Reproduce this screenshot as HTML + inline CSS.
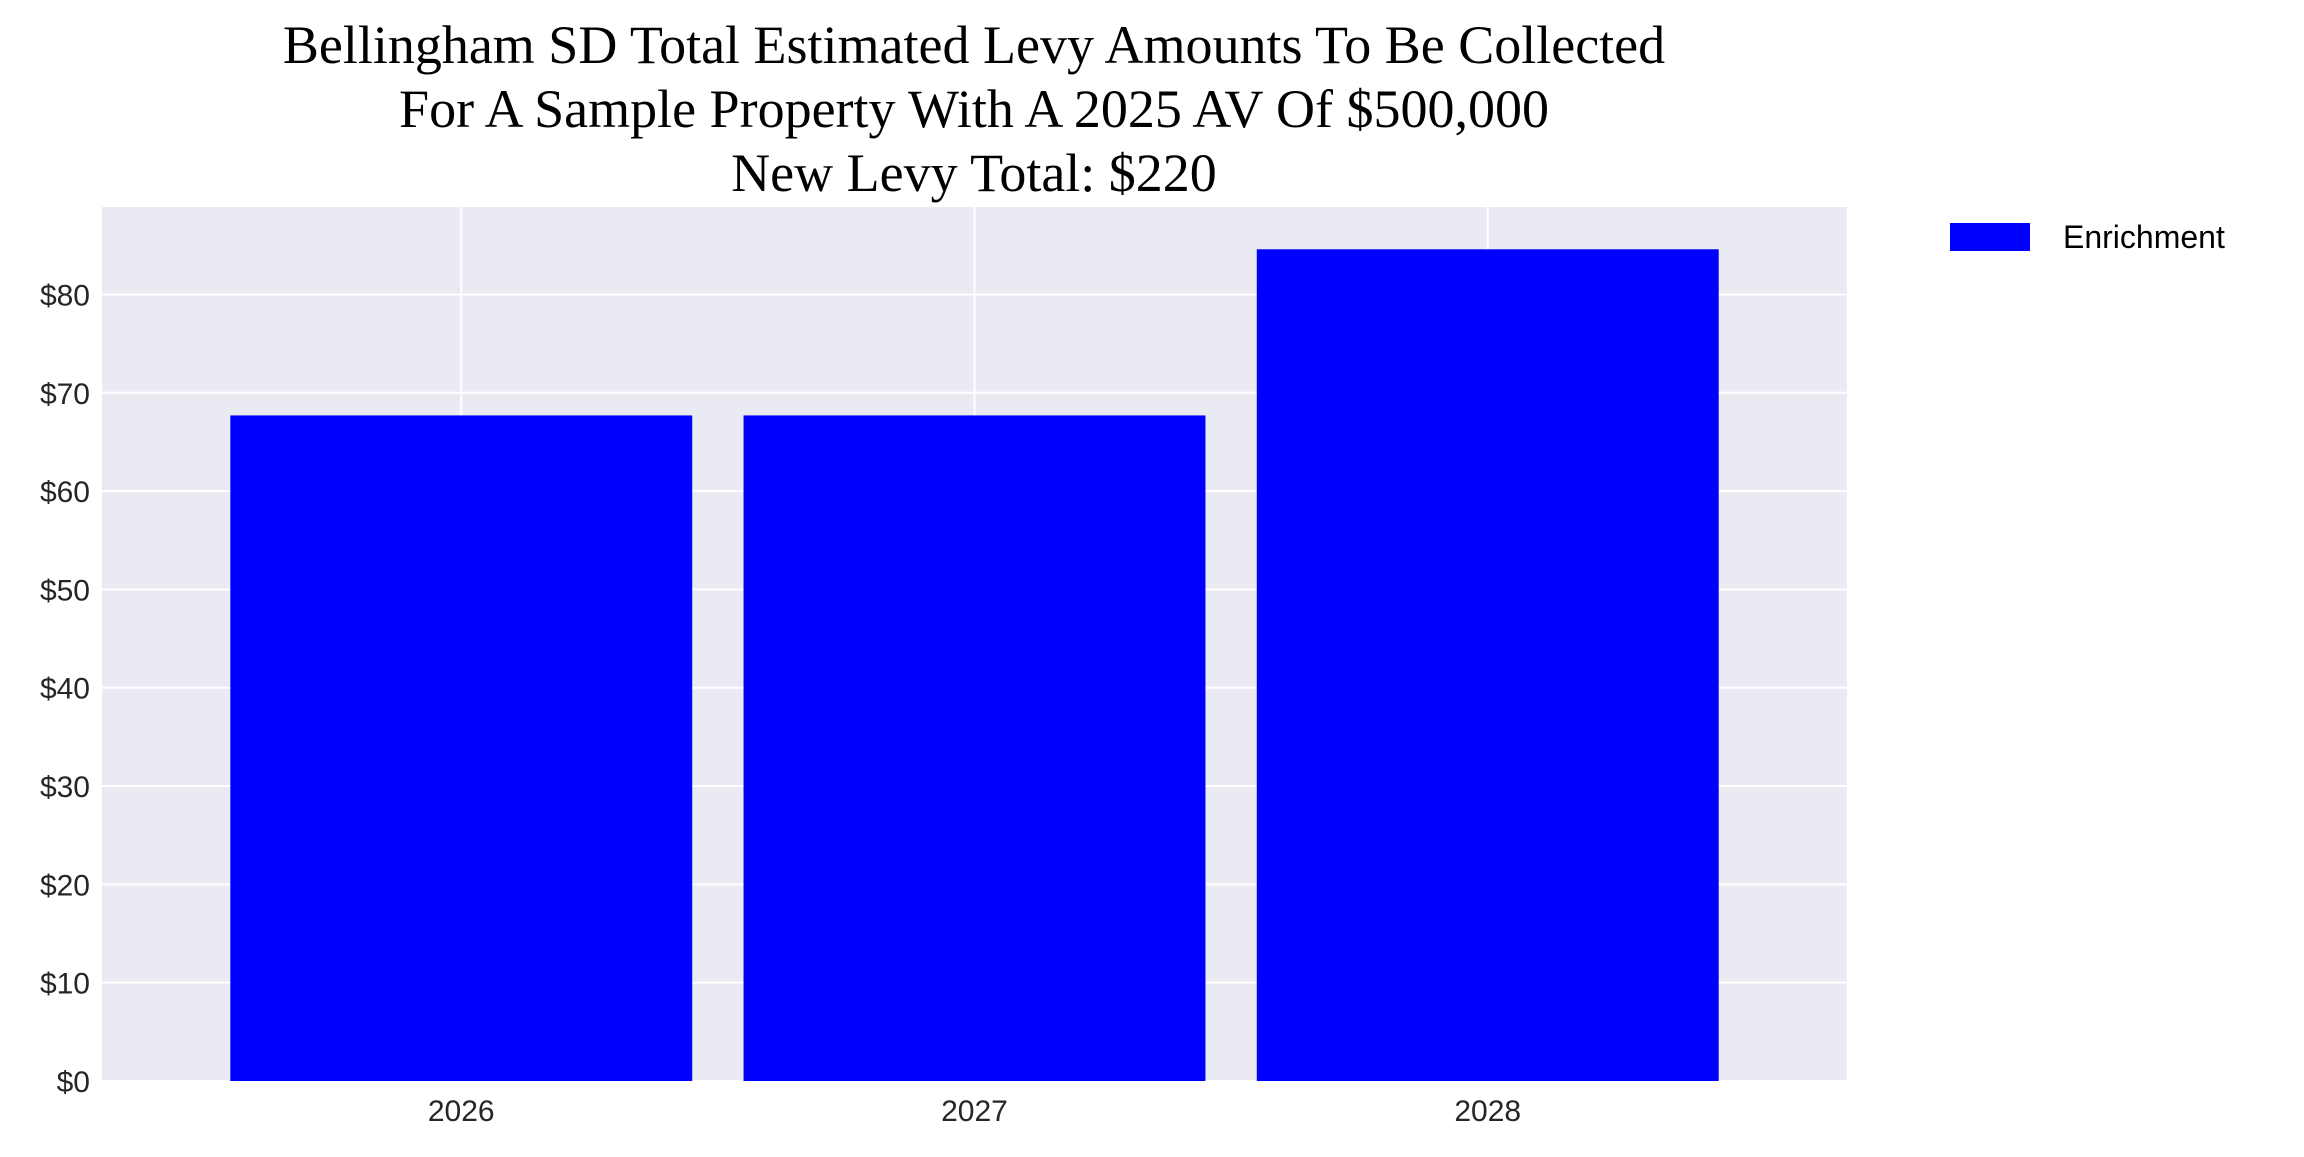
<!DOCTYPE html>
<html><head><meta charset="utf-8"><style>
body{margin:0;background:#fff;width:2304px;height:1152px;overflow:hidden}
</style></head><body>
<svg width="2304" height="1152" xmlns="http://www.w3.org/2000/svg">
<g font-family="Liberation Serif, serif" font-size="54" fill="#000" text-anchor="middle">
<text x="974" y="63">Bellingham SD Total Estimated Levy Amounts To Be Collected</text>
<text x="974" y="127">For A Sample Property With A 2025 AV Of $500,000</text>
<text x="974" y="191">New Levy Total: $220</text>
</g>
<rect x="102" y="207" width="1745" height="874" fill="#eaeaf2"/>
<g id="grid"></g>
<g id="bars"></g>
<g id="yticks" font-family="Liberation Sans, sans-serif" font-size="30" fill="#262626" text-anchor="end"></g>
<g id="xticks" font-family="Liberation Sans, sans-serif" font-size="30" fill="#262626" text-anchor="middle"></g>
<g>
<rect x="1950" y="223" width="80" height="28" fill="#0000ff"/>
<text x="2063" y="248" font-family="Liberation Sans, sans-serif" font-size="32" fill="#000">Enrichment</text>
</g>
</svg>
<script>
const categories=["2026","2027","2028"];
const values=[67.7,67.7,84.6];
const yTicks=[0,10,20,30,40,50,60,70,80];
const yTickLabels=["$0","$10","$20","$30","$40","$50","$60","$70","$80"];
const L=102,R=1847,T=207,B=1081,yMax=88.9,xMin=-0.7,xMax=2.7;
const ns="http://www.w3.org/2000/svg";
const y=v=>B-(v/yMax)*(B-T);
const x=i=>L+(i-xMin)/(xMax-xMin)*(R-L);
const bw=0.9*(x(1)-x(0));
const grid=document.getElementById('grid'),bars=document.getElementById('bars'),yt=document.getElementById('yticks'),xt=document.getElementById('xticks');
yTicks.forEach((t,i)=>{
 const l=document.createElementNS(ns,'line');
 l.setAttribute('x1',L);l.setAttribute('x2',R);l.setAttribute('y1',y(t));l.setAttribute('y2',y(t));
 l.setAttribute('stroke','#fff');l.setAttribute('stroke-width','2');
 
 
 grid.appendChild(l);
 const tx=document.createElementNS(ns,'text');
 tx.setAttribute('x',L-12);tx.setAttribute('y',y(t)+11);tx.textContent=yTickLabels[i];
 
 
 yt.appendChild(tx);
});
categories.forEach((c,i)=>{
 const l=document.createElementNS(ns,'line');
 l.setAttribute('x1',x(i));l.setAttribute('x2',x(i));l.setAttribute('y1',T);l.setAttribute('y2',B);
 l.setAttribute('stroke','#fff');l.setAttribute('stroke-width','2');
 
 
 grid.appendChild(l);
 const r=document.createElementNS(ns,'rect');
 r.setAttribute('x',x(i)-bw/2);r.setAttribute('width',bw);r.setAttribute('y',y(values[i]));r.setAttribute('height',B-y(values[i]));
 r.setAttribute('fill','#0000ff');
 
 
 bars.appendChild(r);
 const tx=document.createElementNS(ns,'text');
 tx.setAttribute('x',x(i));tx.setAttribute('y',B+40);tx.textContent=c;
 
 
 xt.appendChild(tx);
});
</script>
</body></html>
